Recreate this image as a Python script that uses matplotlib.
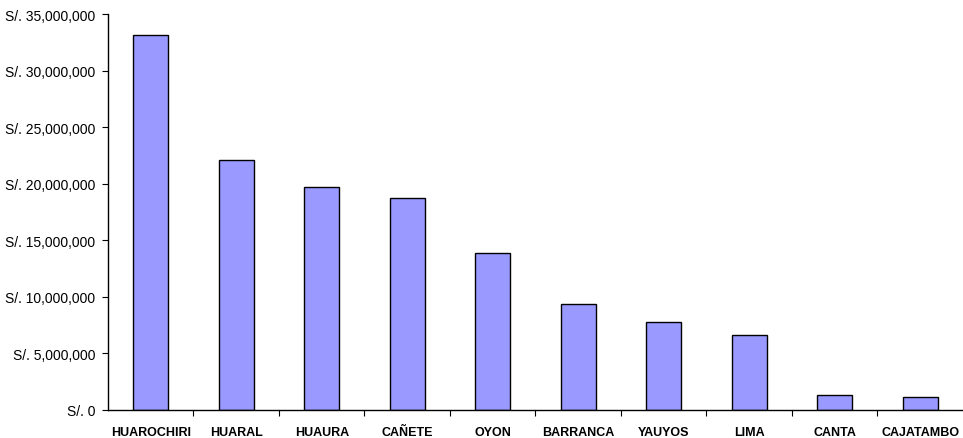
import matplotlib.pyplot as plt
from matplotlib.ticker import FuncFormatter

plt.rcParams['font.family'] = ['Liberation Sans', 'DejaVu Sans']

provincias = ["HUAROCHIRI", "HUARAL", "HUAURA", "CAÑETE", "OYON",
              "BARRANCA", "YAUYOS", "LIMA", "CANTA", "CAJATAMBO"]
montos = [33200000, 22150000, 19750000, 18800000, 13870000,
          9380000, 7790000, 6600000, 1330000, 1110000]

fig = plt.figure(figsize=(9.63, 4.39), dpi=100)
ax = fig.add_axes([0.1121, 0.0638, 0.8879, 0.9009])

x = list(range(len(provincias)))
ax.bar(x, montos, width=0.41, color="#9999FF", edgecolor="black", linewidth=1.0)

ax.set_xlim(-0.5, len(provincias) - 0.5)
ax.set_ylim(0, 35000000)
ax.set_yticks(range(0, 35000001, 5000000))
ax.yaxis.set_major_formatter(FuncFormatter(lambda v, p: "S/. {:,.0f}".format(v)))
ax.tick_params(axis="y", labelsize=10, length=4, direction="out", pad=5)

# tick marks between categories, labels at centers
ax.set_xticks([i + 0.5 for i in x[:-1]])
ax.set_xticklabels([])
ax.tick_params(axis="x", which="major", length=4, direction="out")
ax.set_xticks(x, minor=True)
ax.set_xticklabels(provincias, minor=True, fontsize=9, fontweight="bold")
ax.tick_params(axis="x", which="minor", length=0, pad=18)
for lbl in ax.get_xticklabels(minor=True):
    lbl.set_verticalalignment("baseline")

for s in ["top", "right"]:
    ax.spines[s].set_visible(False)
for s in ["left", "bottom"]:
    ax.spines[s].set_color("black")
    ax.spines[s].set_linewidth(1.0)

fig.savefig("out.png", dpi=100)
